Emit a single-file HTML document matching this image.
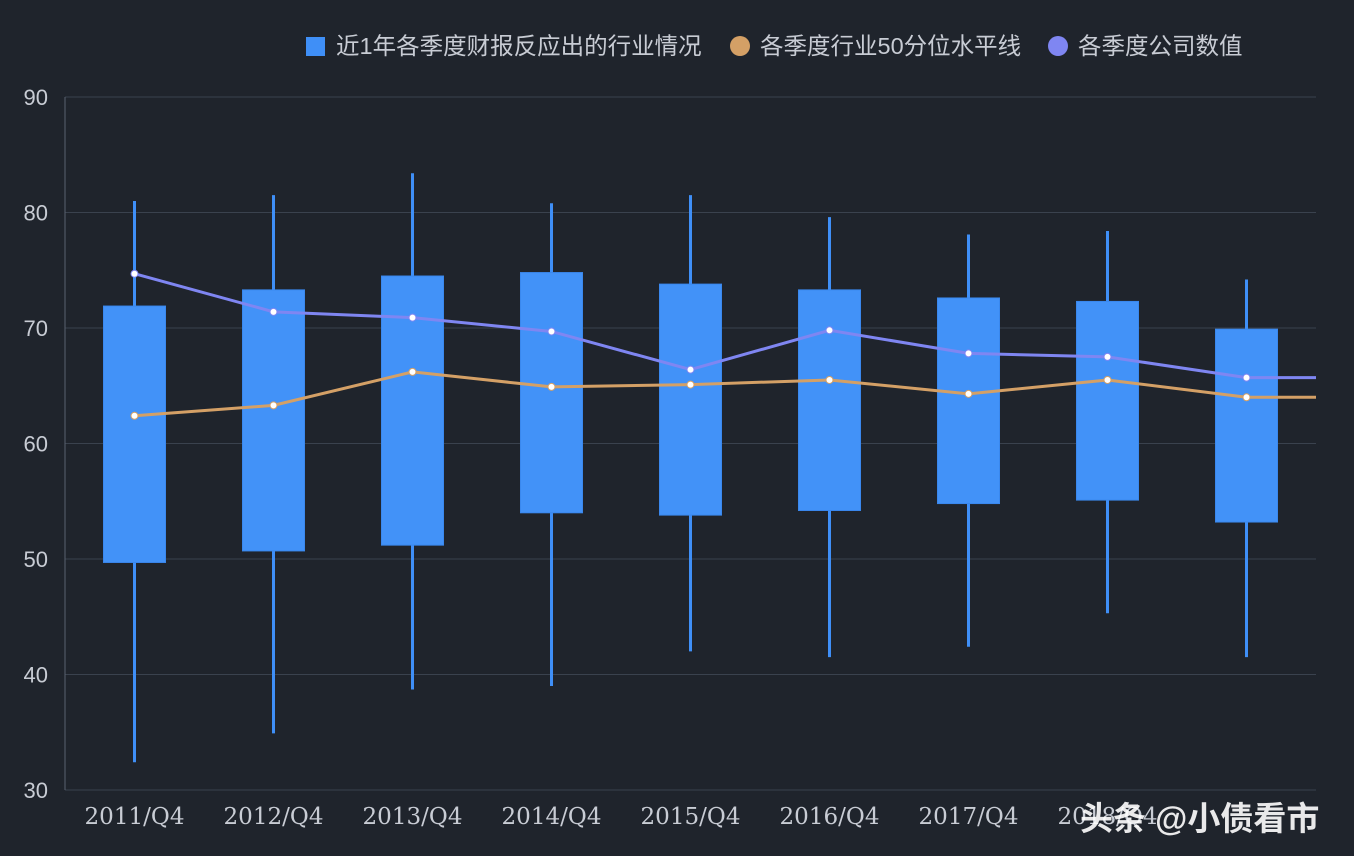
<!DOCTYPE html>
<html><head><meta charset="utf-8"><style>
body{margin:0;background:#1f242c;}
svg{display:block;font-family:"Liberation Sans","Noto Sans CJK SC",sans-serif;}
</style></head><body>
<svg id="c" width="1354" height="856">
<rect width="1354" height="856" fill="#1f242c"/>
<g id="legend">
<g><rect x="306" y="37" width="19" height="19" fill="#3f8ff7"/><text x="336" y="54" font-size="23.5" fill="#c8ccd4">近1年各季度财报反应出的行业情况</text></g>
<g><circle cx="740" cy="46" r="10" fill="#d4a066"/><text x="760" y="54" font-size="23.5" fill="#c8ccd4">各季度行业50分位水平线</text></g>
<g><circle cx="1058" cy="46" r="10" fill="#7f86f2"/><text x="1078" y="54" font-size="23.5" fill="#c8ccd4">各季度公司数值</text></g>
</g>
<g id="grid"></g><g id="marks"></g>
<text x="1080" y="830" font-size="33" font-weight="bold" fill="#ffffff" opacity="0.9">头条 @小债看市</text>
</svg>
<script>
const categories=['2011/Q4','2012/Q4','2013/Q4','2014/Q4','2015/Q4','2016/Q4','2017/Q4','2018/Q4','2019/Q4'];
const showLabel=[1,1,1,1,1,1,1,1,0];
const highs=[81,81.5,83.4,80.8,81.5,79.6,78.1,78.4,74.2];
const lows=[32.4,34.9,38.7,39,42,41.5,42.4,45.3,41.5];
const q3s=[71.9,73.3,74.5,74.8,73.8,73.3,72.6,72.3,69.9];
const q1s=[49.7,50.7,51.2,54,53.8,54.2,54.8,55.1,53.2];
const company=[74.7,71.4,70.9,69.7,66.4,69.8,67.8,67.5,65.7];
const industry=[62.4,63.3,66.2,64.9,65.1,65.5,64.3,65.5,64];
const yTicks=[30,40,50,60,70,80,90];
const L=65,R=1316,T=97,B=790,ymin=30,ymax=90;
const bw=(R-L)/categories.length;
const x=i=>L+bw*(i+0.5);
const y=v=>B-(v-ymin)/(ymax-ymin)*(B-T);
const NS='http://www.w3.org/2000/svg';
function mk(p,t,a){const e=document.createElementNS(NS,t);for(const k in a)e.setAttribute(k,a[k]);p.appendChild(e);return e;}
const g=document.getElementById('grid'),m=document.getElementById('marks');
yTicks.forEach(v=>{
 const l=mk(g,'line',{x1:L,x2:R,y1:y(v),y2:y(v),stroke:'#3a424e','stroke-width':1});
 
 
 const t=mk(g,'text',{x:48,y:y(v)+8,'font-size':22,fill:'#c8ccd4','text-anchor':'end'});t.textContent=v;
 
 
});
const ax=mk(g,'line',{x1:L,x2:L,y1:T,y2:B,stroke:'#5a6270'});


categories.forEach((c,i)=>{
 if(!showLabel[i])return;
 const t=mk(g,'text',{x:x(i),y:824,'font-size':23,fill:'#c8ccd4','text-anchor':'middle','font-family':'DejaVu Serif, serif',textLength:100,lengthAdjust:'spacingAndGlyphs'});t.textContent=c;
 
 
});
categories.forEach((c,i)=>{
 const w=mk(m,'line',{x1:x(i),x2:x(i),y1:y(highs[i]),y2:y(lows[i]),stroke:'#3f8ff7','stroke-width':3});
 
 
 const b=mk(m,'rect',{x:x(i)-31,width:62,y:y(q3s[i]),height:y(q1s[i])-y(q3s[i]),fill:'#4292f8',stroke:'#3a88ee'});
 
 
});
function line(vals,col,name){
 let d=vals.map((v,i)=>(i?'L':'M')+x(i)+','+y(v)).join('')+'L'+R+','+y(vals[vals.length-1]);
 const p=mk(m,'path',{d:d,fill:'none',stroke:col,'stroke-width':3});
 
 
 vals.forEach((v,i)=>{const c=mk(m,'circle',{cx:x(i),cy:y(v),r:3.5,fill:'#fff',stroke:col,'stroke-width':1});
 
 });
}
line(industry,'#d4a066','industry-median');
line(company,'#7f86f2','company-value');
</script>
</body></html>
